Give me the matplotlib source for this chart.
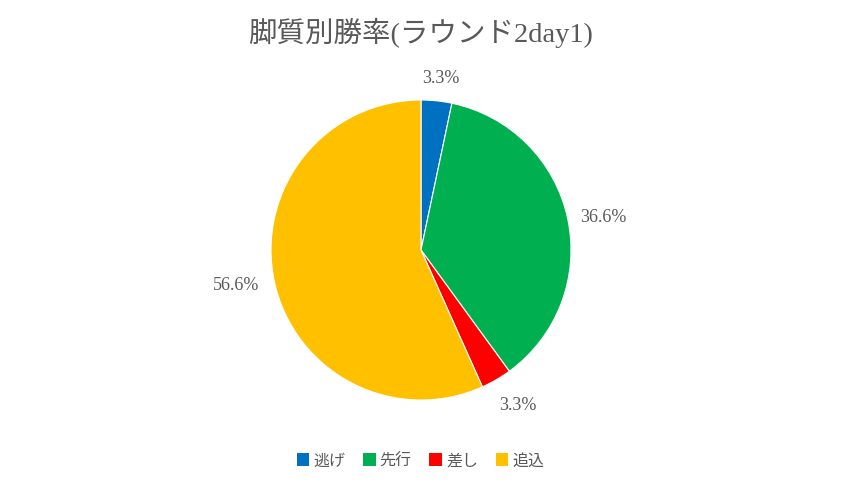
import matplotlib
matplotlib.use("Agg")
import matplotlib.pyplot as plt
from matplotlib.patches import Patch

plt.rcParams['font.family'] = ['Liberation Serif', 'Noto Sans CJK JP']

categories = ['逃げ', '先行', '差し', '追込']
values = [3.3, 36.6, 3.3, 56.6]
colors = ['#0070C0', '#00B050', '#FF0000', '#FFC000']
title = '脚質別勝率(ラウンド2day1)'

fig = plt.figure(figsize=(8.41, 4.85), dpi=100)
ax = fig.add_axes([0, 0, 1, 1])
ax.set_xlim(0, 841)
ax.set_ylim(485, 0)
ax.set_axis_off()

pax = fig.add_axes([(421 - 150) / 841, 1 - (251 + 150) / 485, 300 / 841, 300 / 485])
wedges, texts = pax.pie(values, colors=colors, startangle=90, counterclock=False,
                        labels=[f'{v:.1f}%' for v in values], labeldistance=1.1,
                        wedgeprops=dict(linewidth=0.8, edgecolor='white'),
                        textprops=dict(fontsize=13, color='#595959'))
pax.set_aspect('equal')
pax.set_xlim(-1, 1)
pax.set_ylim(-1, 1)
# fine alignment of small-slice labels
texts[0].set_ha('center')
texts[0].set_position((0.13, 1.15))
texts[2].set_position((0.52, -1.03))
texts[1].set_position((1.06, 0.22))

fig.text(0.5, 1 - 33 / 485, title, ha='center', va='center', fontsize=20.5, color='#595959')

handles = [Patch(facecolor=c, edgecolor='none') for c in colors]
fig.legend(handles, categories, loc='center', bbox_to_anchor=(0.5, 1 - 462 / 485),
           ncol=4, frameon=False, fontsize=11.5, handlelength=0.8, handleheight=0.8,
           handletextpad=0.25, columnspacing=1.1, labelcolor='#595959')

fig.savefig('out.png', dpi=100)
